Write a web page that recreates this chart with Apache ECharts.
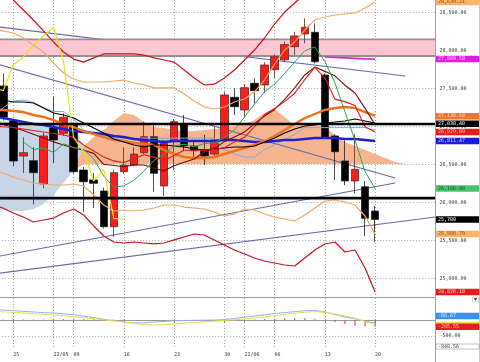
<!DOCTYPE html>
<html><head><meta charset="utf-8">
<script src="https://cdn.jsdelivr.net/npm/echarts@6/dist/echarts.min.js"></script>
<style>html,body{margin:0;padding:0;background:#fff}#c{width:480px;height:362px}</style>
</head><body><div id="c"></div>
<script>
// ---- categories (trading days), j = 0 is 04/21 ----
const categories = ['04/21','04/22','04/25','04/26','04/27','04/28','05/02','05/06','05/09','05/10','05/11','05/12','05/13','05/16','05/17','05/18','05/19','05/20','05/23','05/24','05/25','05/26','05/27','05/30','05/31','06/01','06/02','06/03','06/06','06/07','06/08','06/09','06/10','06/13','06/14','06/15','06/16','06/17','06/20','06/21','06/22','06/23','06/24','06/27','06/28'];
const tickLabels = ['','','25','','','','22/05','','09','','','','','16','','','','','23','','','','','30','','22/06','','','06','','','','','13','','','','','20','','','','','',''];

// ---- candles 04/22 .. 06/20 : [open, close, low, high] ----
const ohlc = [
 [27536,27124,27080,27700],[27079,26549,26480,27100],[26614,26658,26390,26860],[26553,26395,25980,26730],
 [26246,26878,26190,26920],[26983,26825,26520,27395],[26913,27124,26880,27180],[27022,26408,26380,27060],
 [26430,26276,25880,26470],[26300,26255,25930,26390],[26154,25684,25660,26200],[25684,26395,25550,26430],
 [26408,26496,26380,26730],[26496,26640,26480,26730],[26658,26869,26640,27066],[26869,26387,26145,27053],
 [26220,26782,26088,26825],[26803,27066,26430,27100],[27031,26746,26693,27154],[26746,26684,26562,26825],
 [26693,26614,26496,26890],[26640,26825,26600,27000],[26838,27417,26820,27460],[27387,27263,27154,27505],
 [27220,27513,27132,27560],[27571,27474,27308,27637],[27549,27812,27440,27850],[27750,27920,27640,27950],
 [27880,28080,27850,28120],[28053,28194,27943,28250],[28220,28308,28097,28426],[28242,27855,27834,28360],
 [27680,26860,26840,27700],[26878,26671,26300,26900],[26549,26286,26230,26820],[26286,26439,26125,26900],
 [26210,25795,25560,26286],[25890,25780,25480,25960]
];

// ---- indicator lines, starting at 04/21 ----
const bbUpper3 = [28930,28800,28667,28536,28404,28260,28115,27983,27890,27850,27905,27957,27957,27957,27957,27943,27905,27878,27850,27746,27640,27549,27560,27641,27746,27878,28009,28167,28351,28509,28628,28746,28850,28950,29050,29150,29250,29330,29400];
const bbUpper2 = [28286,28260,28233,28167,28075,27983,27838,27707,27628,27588,27588,27588,27601,27614,27575,27549,27510,27510,27510,27430,27338,27259,27233,27259,27325,27364,27457,27614,27825,28009,28115,28272,28404,28443,28470,28483,28496,28562,28640];
const bbLower2 = [26417,26391,26338,26299,26259,26246,26233,26233,26246,26220,26101,25970,25891,25904,25891,25904,25930,25970,25970,25943,25930,25917,25878,25825,25851,25917,25904,25851,25812,25786,25759,25838,25930,26022,26036,26009,25970,25825,25588];
const bbLower3 = [25970,25928,25865,25812,25746,25772,25798,25865,25917,25838,25694,25562,25483,25470,25483,25470,25457,25470,25510,25549,25588,25575,25510,25444,25378,25325,25272,25233,25207,25180,25167,25272,25378,25457,25483,25351,25378,25141,24826];
const ma20 = [27230,27220,27207,27193,27154,27128,27088,27035,26996,26943,26904,26864,26825,26812,26786,26772,26759,26693,26641,26601,26588,26588,26601,26641,26680,26720,26759,26812,26878,26957,27035,27114,27167,27220,27246,27259,27246,27193,27141];
const ma25 = [27370,27351,27325,27325,27312,27246,27180,27154,27114,27049,26983,26917,26838,26799,26759,26733,26759,26759,26746,26733,26706,26693,26706,26720,26733,26733,26746,26799,26851,26917,26970,27009,27022,27049,27062,27075,27101,27075,27049];
const ma75 = [27130,27114,27088,27062,27035,27022,26996,26970,26943,26930,26917,26904,26878,26864,26838,26825,26812,26799,26812,26812,26812,26812,26812,26825,26825,26812,26799,26799,26812,26825,26825,26838,26851,26851,26851,26838,26838,26825,26811];
const ma10 = [27050,27030,26990,26950,26900,26850,26800,26760,26720,26690,26649,26505,26490,26474,26498,26497,26453,26419,26485,26532,26575,26668,26711,26803,26865,26930,27038,27141,27227,27360,27511,27681,27784,27728,27669,27546,27443,27241,27027];
const tenkan = [27010,27000,26990,26970,26950,26930,26910,26890,26860,26760,26680,26600,26550,26530,26580,26630,26600,26560,26620,26690,26690,26690,26700,26720,26800,26860,27000,27160,27240,27330,27440,27620,27780,27640,27363,27330,27280,27000,26929];
const kijun = [27100,27250,27340,27350,27320,27250,27200,27200,27100,26960,26900,26880,26850,26850,26850,26850,26850,26850,26850,26850,26850,26850,26850,26700,26640,26600,26600,26700,26760,26830,26900,26988,26988,26988,26988,26988,26988,26988,26953];
// 5-day line starts at 04/26
const ma5 = [26800,26700,26720,26661,26776,26726,26702,26578,26349,26204,26221,26294,26417,26557,26635,26749,26770,26733,26778,26787,26857,26961,27126,27298,27460,27560,27700,27850,28000,28050,27859,27578,27196,26822,26410,26186];
// cloud spans from 04/21 to 06/23
const spanA = [25904,25904,25891,25891,25917,25983,26101,26259,26430,26746,26864,26957,27075,27180,27154,27062,26996,26983,26957,26943,26943,26957,26970,26983,27009,27035,27088,27180,27233,27128,27009,27022,27022,26996,26891,26799,26746,26693,26641,26588,26536,26509];
const spanB = [27075,27075,27062,27049,27035,27022,27022,27022,27022,26509,26509,26509,26509,26509,26509,26509,26509,26509,26509,26509,26509,26509,26509,26509,26509,26509,26509,26509,26509,26509,26509,26509,26509,26509,26509,26509,26509,26509,26509,26509,26509,26509];
// magenta line from 06/13
const magenta = [27917,27911,27905,27899,27893,27889];
// levels
const pinkBand = [27930, 28150];
const hLines = [27035, 26060];
// trend lines: [startIndex, startValue, endIndex, endValue]
const trendLines = [[0,28322,41,27667],[0,27838,40,26325],[0,25282,40,26259],[0,25063,44,25812]];
// lower panel oscillator, from 04/21
const oscBlue = [330,322,300,280,260,240,227,200,170,130,80,30,-10,-60,-89,-80,-57,-40,-20,-10,-5,0,5,20,50,90,130,170,210,240,270,300,310,260,180,100,40,-30,-87];
const oscYellow = [280,265,245,225,205,185,165,140,110,80,45,10,-25,-60,-100,-140,-150,-140,-120,-95,-70,-50,-30,-10,10,40,70,100,140,180,220,250,270,250,200,130,60,-40,-150];
const oscRed = [20,20,25,25,25,25,30,30,30,30,35,30,25,10,0,-10,-20,-25,-30,-30,-30,-30,-20,-10,0,10,20,30,40,50,60,60,40,0,-60,-120,-180,-200,-205];

// ---- build ----
const at = (arr, start) => categories.map((_, j) => (j >= start && j - start < arr.length) ? arr[j - start] : null);
const closes = ohlc.map(d => d[1]);
const chikou = closes.slice(24);
const A = at(spanA, 0), B = at(spanB, 0);
const kBase = A.map((a, j) => a == null ? null : Math.min(a, B[j]));
const kBull = A.map((a, j) => a == null ? null : Math.max(a - B[j], 0));
const kBear = A.map((a, j) => a == null ? null : Math.max(B[j] - a, 0));
const candleData = at(ohlc, 1).map(d => d == null ? '-' : d);
const showTick = (i) => tickLabels[i] !== '';
const mono = '"DejaVu Sans Mono", monospace';
const dotted = {type: [1, 2], color: '#a9a9a9', width: 1};

function line(data, color, width, z, extra) {
  return Object.assign({type: 'line', xAxisIndex: 0, yAxisIndex: 0, data, symbol: 'none', silent: true,
    lineStyle: {color, width}, z: z || 3, animation: false}, extra || {});
}

const series = [
  line(kBase, 'none', 0, 1, {stack: 'kumo'}),
  line(kBull, 'none', 0, 1, {stack: 'kumo', areaStyle: {color: '#f7b58f', opacity: 1}}),
  line(kBear, 'none', 0, 1, {stack: 'kumo', areaStyle: {color: '#c8d5e6', opacity: 1}}),
];
trendLines.forEach(t => series.push(line([[t[0], t[1]], [t[2], t[3]]], '#6a6aae', 1.2, 1.5)));
series.push(line(categories.map(() => pinkBand[0]), '#929292', 1.8, 1.8, {stack: 'pink'}));
series.push(line(categories.map(() => pinkBand[1] - pinkBand[0]), '#929292', 1.8, 1.8, {stack: 'pink', areaStyle: {color: '#ffc6d3', opacity: 1}}));
series.push({type: 'candlestick', xAxisIndex: 0, yAxisIndex: 0, data: candleData, barWidth: 8, z: 2, silent: true, animation: false,
  itemStyle: {color: '#ff1c1c', color0: '#000000', borderColor: '#5a2a2a', borderColor0: '#202020', borderWidth: 0.8}});
series.push(line(at(bbUpper3, 0), '#c8141a', 1.2));
series.push(line(at(bbLower3, 0), '#c8141a', 1.2));
series.push(line(at(bbUpper2, 0), '#f2a963', 1.2));
series.push(line(at(bbLower2, 0), '#f2a963', 1.2));
series.push(line(at(kijun, 0), '#78aae6', 1));
series.push(line(at(ma75, 0), '#1c22d0', 2.4));
series.push(line(at(ma20, 0), '#f0711e', 2.4));
series.push(line(at(ma25, 0), '#000000', 1.1));
series.push(line(at(ma10, 0), '#7a0c0c', 1.1));
series.push(line(at(tenkan, 0), '#dd1c1c', 1.1));
series.push(line(at(ma5, 3), '#2aa84a', 1));
series.push(line(at(chikou, 0), '#e6e21e', 1.2));
series.push(line(at(magenta, 33), '#d626d6', 1.6));
hLines.forEach(v => series.push(line(categories.map(() => v), '#000000', 2.6, 4)));
series.push({type: 'line', xAxisIndex: 1, yAxisIndex: 1, data: [], silent: true});
// lower panel
series.push({type: 'bar', xAxisIndex: 2, yAxisIndex: 2, data: at(oscRed, 0), barWidth: 1.2, itemStyle: {color: '#e05050'}, silent: true, animation: false,
  markLine: {silent: true, symbol: 'none', lineStyle: dotted, data: [{yAxis: -500}],
    label: {show: true, position: 'end', formatter: '-500.00', fontSize: 5, fontFamily: mono, color: '#333', distance: 4}}});
series.push(Object.assign(line(at(oscBlue, 0), '#8fb4e4', 1), {xAxisIndex: 2, yAxisIndex: 2}));
series.push(Object.assign(line(at(oscYellow, 0), '#e8dc50', 1), {xAxisIndex: 2, yAxisIndex: 2}));

const catAxis = (grid, labels) => ({
  type: 'category', gridIndex: grid, data: categories, boundaryGap: false,
  axisLine: {show: true, lineStyle: {color: '#9a9a9a', width: 1}},
  axisTick: {show: labels, interval: showTick, length: 3, lineStyle: {color: '#888'}},
  axisLabel: {show: labels, interval: showTick, formatter: (v, i) => tickLabels[i], align: 'left',
    fontSize: 5, fontFamily: mono, color: '#333', margin: 5},
  splitLine: {show: true, interval: showTick, lineStyle: dotted}
});

const option = {
  animation: false,
  backgroundColor: '#fff',
  grid: [
    {left: -6.8, top: 0, width: 442.2, height: 297, outerBoundsMode: 'none'},
    {left: -6.8, top: -25.3, width: 442.2, height: 304, outerBoundsMode: 'none'},
    {left: -6.8, top: 298, width: 442.2, height: 49, outerBoundsMode: 'none'}
  ],
  xAxis: [catAxis(0, false), {type: 'value', gridIndex: 1, show: false, min: 0, max: 1}, catAxis(2, true)],
  yAxis: [
    {type: 'value', gridIndex: 0, min: 24759.2, max: 28667.1, show: false},
    {type: 'value', gridIndex: 1, min: 25000, max: 29000, interval: 500, position: 'right',
      axisLine: {show: false}, axisTick: {show: true, length: 2, lineStyle: {color: '#777'}},
      axisLabel: {fontSize: 5, fontFamily: mono, color: '#333', margin: 4,
        formatter: v => v.toLocaleString('en-US', {minimumFractionDigits: 2, maximumFractionDigits: 2})},
      splitLine: {show: true, lineStyle: dotted}},
    {type: 'value', gridIndex: 2, min: -848.56, max: 702, show: false}
  ],
  series
};

const chart = echarts.init(document.getElementById('c'));
chart.setOption(option);

// value tags in the right panel, placed through the axis scales
const tags = [
  [0, 28639.21, '28,639.21', '#fbb36b', '#8a4a10', 0],
  [0, 27889.58, '27,889.58', '#e020e0', '#ffc0ff', 0],
  [0, 27138.50, '27,138.50', '#f07532', '#ffd8c0', 0],
  [0, 27038.40, '27,038.40', '#000000', '#ffffff', 0],
  [0, 26929.09, '26,929.09', '#e81c1c', '#ffc8c8', 0],
  [0, 26811.47, '26,811.47', '#1a1ae0', '#d8d8ff', 0],
  [0, 26186.00, '26,186.00', '#4cc26a', '#106020', 0],
  [0, 25780, '25,780', '#000000', '#ffffff', 0],
  [0, 25588.79, '25,588.79', '#fbb36b', '#8a4a10', 0],
  [0, 24826.18, '24,826.18', '#e81c1c', '#ffc8c8', 0],
  [2, -150, '', '#f0e040', '#000', 0],
  [2, -86.67, '-86.67', '#3a90f0', '#d8ecff', -7],
  [2, -205.55, '-205.55', '#e81c1c', '#ffc8c8', 0]
];
const g = [];
g.push({type: 'line', z: 90, shape: {x1: 435.5, y1: 0, x2: 435.5, y2: 362}, style: {stroke: '#a0a0a0', lineWidth: 1}});
g.push({type: 'line', z: 90, shape: {x1: 479.5, y1: 0, x2: 479.5, y2: 362}, style: {stroke: '#c8c8c8', lineWidth: 1}});
tags.forEach(t => {
  const y = chart.convertToPixel({yAxisIndex: t[0]}, t[1]) + t[5];
  g.push({type: 'rect', z: 100, shape: {x: 436, y: y - 3.25, width: 43, height: 6.5}, style: {fill: t[3]}});
  if (t[2]) g.push({type: 'text', z: 101, x: 438, y: y, style: {text: t[2], fill: t[4], font: '5px ' + mono, verticalAlign: 'middle', align: 'left'}});
});
g.push({type: 'rect', z: 100, shape: {x: 436, y: 344, width: 43, height: 5}, style: {fill: '#fff', stroke: '#999', lineWidth: 0.6}});
g.push({type: 'text', z: 101, x: 438, y: 346.6, style: {text: '-848.56', fill: '#444', font: '5px ' + mono, verticalAlign: 'middle'}});
g.push({type: 'rect', z: 100, shape: {x: 472.5, y: 297, width: 6, height: 5}, style: {fill: '#f4f4f4', stroke: '#bbb', lineWidth: 0.5}});
g.push({type: 'polygon', z: 101, shape: {points: [[473.8, 298.3], [477.2, 298.3], [475.5, 300.8]]}, style: {fill: '#333'}});
chart.setOption({graphic: g});
</script></body></html>
